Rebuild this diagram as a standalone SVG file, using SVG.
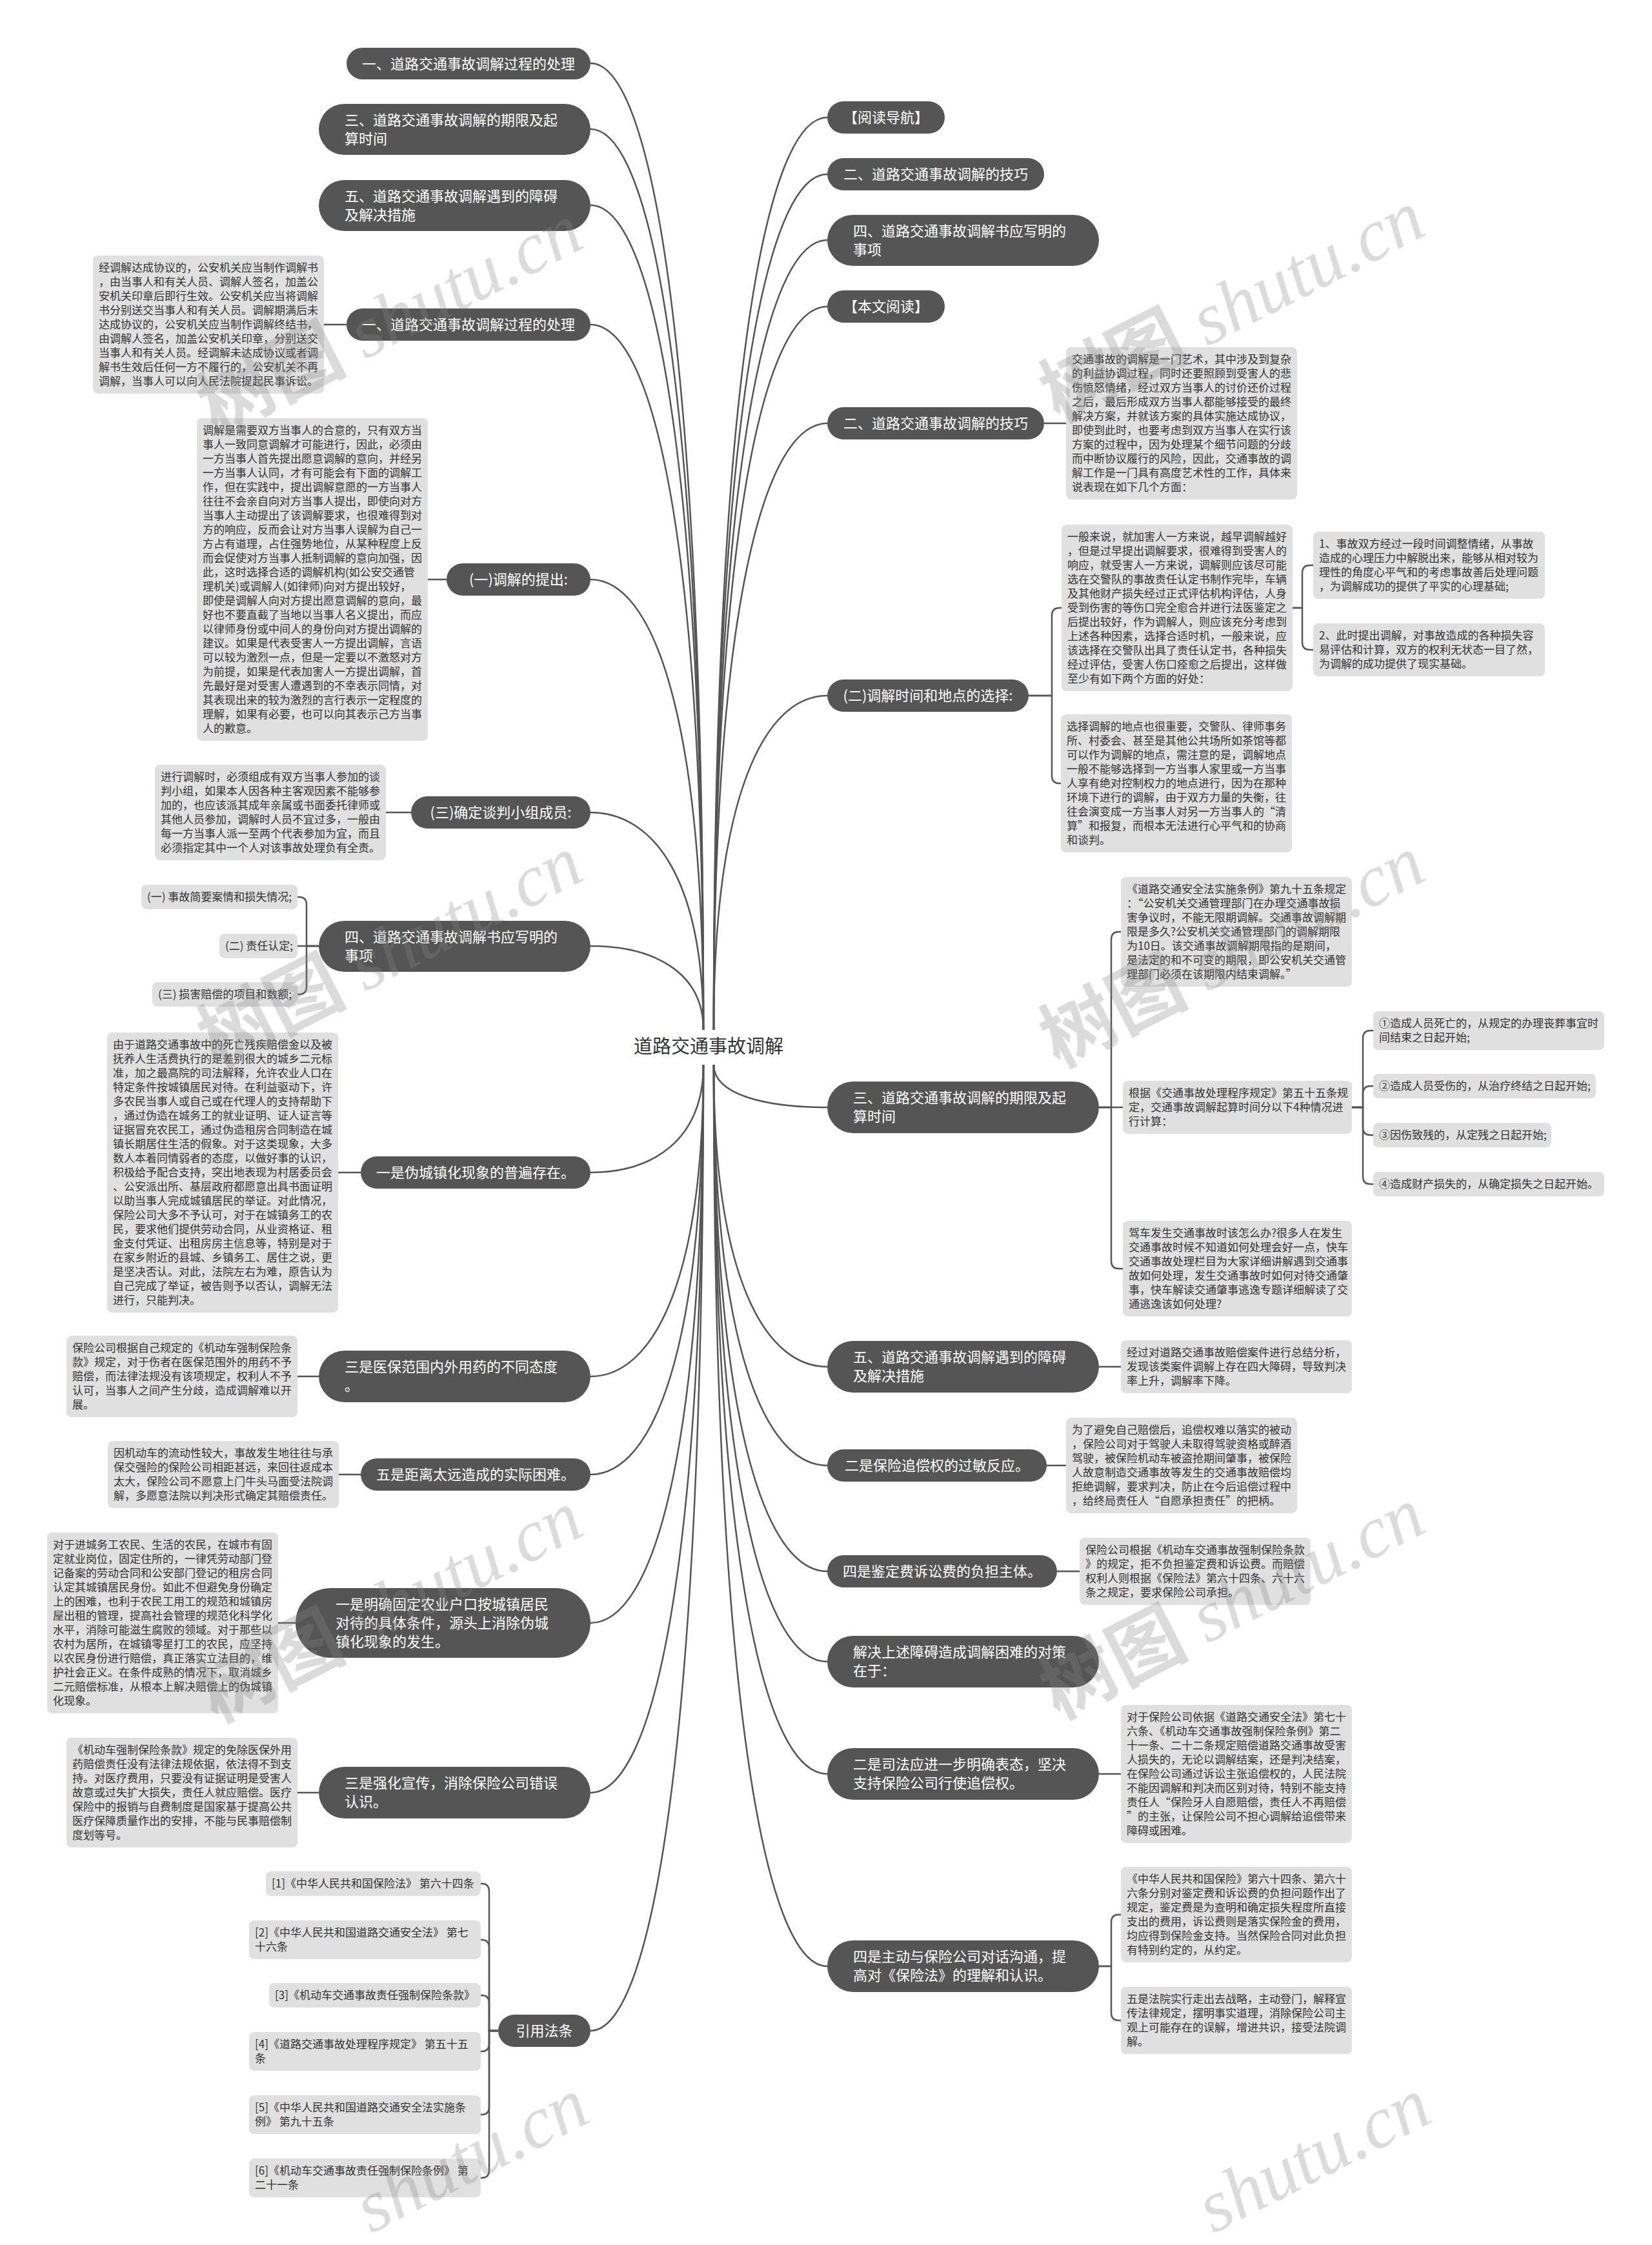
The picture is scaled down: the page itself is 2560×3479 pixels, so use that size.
<svg xmlns="http://www.w3.org/2000/svg" width="2560" height="3479" viewBox="0 0 2560 3479">
<style>
.mn{fill:#555555}
.mt{font-family:"Noto Sans CJK SC","Noto Sans",sans-serif;font-size:22px;fill:#ffffff}
.mc{text-anchor:middle}
.lb{fill:#e0e0e0}
.lt{font-family:"Noto Sans CJK SC","Noto Sans",sans-serif;font-size:17px;fill:#333333}
.cn path{fill:none;stroke:#555555;stroke-width:2.5}
.wm{font-size:115px;fill:#888888;opacity:0.3}
.wc{font-family:"Noto Sans CJK SC",sans-serif;font-weight:bold}
.ws{font-family:"Liberation Serif",serif;font-style:italic}
</style>
<rect width="2560" height="3479" fill="#ffffff"/>

<g id="connectors" class="cn">
<path d="M915 98 C1011 98 1090 547 1090 1596"/>
<path d="M915 200 C1011 200 1090 619 1090 1596"/>
<path d="M915 318 C1011 318 1090 701 1090 1596"/>
<path d="M915 503 C1011 503 1090 831 1090 1596"/>
<path d="M915 898 C1011 898 1090 1107 1090 1596"/>
<path d="M915 1259 C1011 1259 1090 1360 1090 1596"/>
<path d="M915 1466 C1011 1466 1090 1505 1090 1596"/>
<path d="M915 1817 C1011 1817 1090 1767 1090 1650"/>
<path d="M915 2133 C1011 2133 1090 1988 1090 1650"/>
<path d="M915 2285 C1011 2285 1090 2095 1090 1650"/>
<path d="M915 2515 C1011 2515 1090 2256 1090 1650"/>
<path d="M915 2778 C1011 2778 1090 2440 1090 1650"/>
<path d="M915 3147 C1011 3147 1090 2698 1090 1650"/>
<path d="M1282 182 C1185 182 1106 606 1106 1596"/>
<path d="M1282 270 C1185 270 1106 668 1106 1596"/>
<path d="M1282 372 C1185 372 1106 739 1106 1596"/>
<path d="M1282 475 C1185 475 1106 811 1106 1596"/>
<path d="M1282 656 C1185 656 1106 938 1106 1596"/>
<path d="M1282 1078 C1185 1078 1106 1233 1106 1596"/>
<path d="M1282 1716 C1185 1716 1106 1696 1106 1650"/>
<path d="M1282 2118 C1185 2118 1106 1978 1106 1650"/>
<path d="M1282 2271 C1185 2271 1106 2085 1106 1650"/>
<path d="M1282 2435 C1185 2435 1106 2200 1106 1650"/>
<path d="M1282 2575 C1185 2575 1106 2298 1106 1650"/>
<path d="M1282 2749 C1185 2749 1106 2419 1106 1650"/>
<path d="M1282 3047 C1185 3047 1106 2628 1106 1650"/>
<path d="M502 503 H537"/>
<path d="M663 898 H692"/>
<path d="M598 1259 H637"/>
<path d="M524 1817 H559"/>
<path d="M461 2133 H494"/>
<path d="M525 2285 H559"/>
<path d="M431 2515 H458"/>
<path d="M461 2778 H494"/>
<path d="M1618 656 H1652"/>
<path d="M1703 2118 H1737"/>
<path d="M1622 2271 H1652"/>
<path d="M1638 2435 H1673"/>
<path d="M1703 2749 H1737"/>
<path d="M494 1466 H475 V1402 Q475 1390 463 1390 H461"/>
<path d="M494 1466 H461"/>
<path d="M494 1466 H475 V1529 Q475 1541 463 1541 H461"/>
<path d="M772 3147 H758 V2931 Q758 2919 746 2919 H745"/>
<path d="M772 3147 H758 V3018 Q758 3006 746 3006 H745"/>
<path d="M772 3147 H758 V3104 Q758 3092 746 3092 H745"/>
<path d="M772 3147 H758 V3167 Q758 3179 746 3179 H745"/>
<path d="M772 3147 H758 V3265 Q758 3277 746 3277 H745"/>
<path d="M772 3147 H758 V3363 Q758 3375 746 3375 H745"/>
<path d="M1594 1078 H1630 V954 Q1630 942 1642 942 H1645"/>
<path d="M1594 1078 H1630 V1202 Q1630 1214 1642 1214 H1644"/>
<path d="M2003 942 H2018 V888 Q2018 876 2030 876 H2035"/>
<path d="M2003 942 H2018 V995 Q2018 1007 2030 1007 H2035"/>
<path d="M1703 1716 H1722 V1456 Q1722 1444 1734 1444 H1737"/>
<path d="M1703 1716 H1740"/>
<path d="M1703 1716 H1722 V1954 Q1722 1966 1734 1966 H1740"/>
<path d="M2095 1716 H2112 V1609 Q2112 1597 2124 1597 H2128"/>
<path d="M2095 1716 H2112 V1695 Q2112 1683 2124 1683 H2128"/>
<path d="M2095 1716 H2112 V1747 Q2112 1759 2124 1759 H2128"/>
<path d="M2095 1716 H2112 V1823 Q2112 1835 2124 1835 H2128"/>
<path d="M1703 3047 H1722 V2979 Q1722 2967 1734 2967 H1737"/>
<path d="M1703 3047 H1722 V3119 Q1722 3131 1734 3131 H1737"/>
</g>

<g id="center"><text x="1098" y="1632" text-anchor="middle" font-family="Noto Sans CJK SC, sans-serif" font-size="29" fill="#333333">道路交通事故调解</text></g>

<g id="L1"><rect class="mn" x="537" y="74" width="378" height="49" rx="24.5"/><text class="mt mc" x="726" y="107">一、道路交通事故调解过程的处理</text></g>
<g id="L2"><rect class="mn" x="494" y="161" width="421" height="79" rx="39.5"/><text class="mt" x="534" y="194">三、道路交通事故调解的期限及起</text><text class="mt" x="534" y="223">算时间</text></g>
<g id="L3"><rect class="mn" x="494" y="279" width="421" height="79" rx="39.5"/><text class="mt" x="534" y="312">五、道路交通事故调解遇到的障碍</text><text class="mt" x="534" y="341">及解决措施</text></g>
<g id="L4"><rect class="mn" x="537" y="478" width="378" height="50" rx="25"/><text class="mt mc" x="726" y="511">一、道路交通事故调解过程的处理</text></g>
<g id="L5"><rect class="mn" x="692" y="873" width="223" height="50" rx="25"/><text class="mt mc" x="803.5" y="906">(一)调解的提出:</text></g>
<g id="L6"><rect class="mn" x="637" y="1234" width="278" height="50" rx="25"/><text class="mt mc" x="776" y="1267">(三)确定谈判小组成员:</text></g>
<g id="L7"><rect class="mn" x="494" y="1427" width="421" height="79" rx="39.5"/><text class="mt" x="534" y="1460">四、道路交通事故调解书应写明的</text><text class="mt" x="534" y="1489">事项</text></g>
<g id="L8"><rect class="mn" x="559" y="1792" width="356" height="50" rx="25"/><text class="mt mc" x="737" y="1825">一是伪城镇化现象的普遍存在。</text></g>
<g id="L9"><rect class="mn" x="494" y="2093" width="421" height="80" rx="40"/><text class="mt" x="534" y="2126">三是医保范围内外用药的不同态度</text><text class="mt" x="534" y="2155">。</text></g>
<g id="L10"><rect class="mn" x="559" y="2260" width="356" height="50" rx="25"/><text class="mt mc" x="737" y="2293">五是距离太远造成的实际困难。</text></g>
<g id="L11"><rect class="mn" x="458" y="2461" width="457" height="108" rx="54"/><text class="mt" x="520" y="2494">一是明确固定农业户口按城镇居民</text><text class="mt" x="520" y="2523">对待的具体条件，源头上消除伪城</text><text class="mt" x="520" y="2552">镇化现象的发生。</text></g>
<g id="L12"><rect class="mn" x="494" y="2738" width="421" height="80" rx="40"/><text class="mt" x="534" y="2771">三是强化宣传，消除保险公司错误</text><text class="mt" x="534" y="2800">认识。</text></g>
<g id="L13"><rect class="mn" x="772" y="3122" width="143" height="50" rx="25"/><text class="mt mc" x="843.5" y="3155">引用法条</text></g>

<g id="R1"><rect class="mn" x="1282" y="157" width="182" height="50" rx="25"/><text class="mt mc" x="1373" y="190">【阅读导航】</text></g>
<g id="R2"><rect class="mn" x="1282" y="245" width="336" height="50" rx="25"/><text class="mt mc" x="1450" y="278">二、道路交通事故调解的技巧</text></g>
<g id="R3"><rect class="mn" x="1282" y="333" width="421" height="79" rx="39.5"/><text class="mt" x="1322" y="366">四、道路交通事故调解书应写明的</text><text class="mt" x="1322" y="395">事项</text></g>
<g id="R4"><rect class="mn" x="1282" y="450" width="182" height="50" rx="25"/><text class="mt mc" x="1373" y="483">【本文阅读】</text></g>
<g id="R5"><rect class="mn" x="1282" y="631" width="336" height="50" rx="25"/><text class="mt mc" x="1450" y="664">二、道路交通事故调解的技巧</text></g>
<g id="R6"><rect class="mn" x="1282" y="1053" width="312" height="50" rx="25"/><text class="mt mc" x="1438" y="1086">(二)调解时间和地点的选择:</text></g>
<g id="R7"><rect class="mn" x="1282" y="1676" width="421" height="80" rx="40"/><text class="mt" x="1322" y="1709">三、道路交通事故调解的期限及起</text><text class="mt" x="1322" y="1738">算时间</text></g>
<g id="R8"><rect class="mn" x="1282" y="2078" width="421" height="80" rx="40"/><text class="mt" x="1322" y="2111">五、道路交通事故调解遇到的障碍</text><text class="mt" x="1322" y="2140">及解决措施</text></g>
<g id="R9"><rect class="mn" x="1282" y="2246" width="340" height="50" rx="25"/><text class="mt mc" x="1452" y="2279">二是保险追偿权的过敏反应。</text></g>
<g id="R10"><rect class="mn" x="1282" y="2410" width="356" height="50" rx="25"/><text class="mt mc" x="1460" y="2443">四是鉴定费诉讼费的负担主体。</text></g>
<g id="R11"><rect class="mn" x="1282" y="2535" width="421" height="80" rx="40"/><text class="mt" x="1322" y="2568">解决上述障碍造成调解困难的对策</text><text class="mt" x="1322" y="2597">在于：</text></g>
<g id="R12"><rect class="mn" x="1282" y="2709" width="421" height="80" rx="40"/><text class="mt" x="1322" y="2742">二是司法应进一步明确表态，坚决</text><text class="mt" x="1322" y="2771">支持保险公司行使追偿权。</text></g>
<g id="R13"><rect class="mn" x="1282" y="3007" width="421" height="80" rx="40"/><text class="mt" x="1322" y="3040">四是主动与保险公司对话沟通，提</text><text class="mt" x="1322" y="3069">高对《保险法》的理解和认识。</text></g>

<g id="T1"><rect class="lb" x="144" y="396" width="358" height="214" rx="8"/><text class="lt" x="153" y="421"><tspan x="153">经调解达成协议的，公安机关应当制作调解书</tspan><tspan x="153" dy="22">，由当事人和有关人员、调解人签名，加盖公</tspan><tspan x="153" dy="22">安机关印章后即行生效。公安机关应当将调解</tspan><tspan x="153" dy="22">书分别送交当事人和有关人员。调解期满后未</tspan><tspan x="153" dy="22">达成协议的，公安机关应当制作调解终结书，</tspan><tspan x="153" dy="22">由调解人签名，加盖公安机关印章，分别送交</tspan><tspan x="153" dy="22">当事人和有关人员。经调解未达成协议或者调</tspan><tspan x="153" dy="22">解书生效后任何一方不履行的，公安机关不再</tspan><tspan x="153" dy="22">调解，当事人可以向人民法院提起民事诉讼。</tspan></text></g>

<g id="T2"><rect class="lb" x="305" y="648" width="358" height="500" rx="8"/><text class="lt" x="314" y="673"><tspan x="314">调解是需要双方当事人的合意的，只有双方当</tspan><tspan x="314" dy="22">事人一致同意调解才可能进行，因此，必须由</tspan><tspan x="314" dy="22">一方当事人首先提出愿意调解的意向，并经另</tspan><tspan x="314" dy="22">一方当事人认同，才有可能会有下面的调解工</tspan><tspan x="314" dy="22">作，但在实践中，提出调解意愿的一方当事人</tspan><tspan x="314" dy="22">往往不会亲自向对方当事人提出，即使向对方</tspan><tspan x="314" dy="22">当事人主动提出了该调解要求，也很难得到对</tspan><tspan x="314" dy="22">方的响应，反而会让对方当事人误解为自己一</tspan><tspan x="314" dy="22">方占有道理，占住强势地位，从某种程度上反</tspan><tspan x="314" dy="22">而会促使对方当事人抵制调解的意向加强，因</tspan><tspan x="314" dy="22">此，这时选择合适的调解机构(如公安交通管</tspan><tspan x="314" dy="22">理机关)或调解人(如律师)向对方提出较好，</tspan><tspan x="314" dy="22">即使是调解人向对方提出愿意调解的意向，最</tspan><tspan x="314" dy="22">好也不要直截了当地以当事人名义提出，而应</tspan><tspan x="314" dy="22">以律师身份或中间人的身份向对方提出调解的</tspan><tspan x="314" dy="22">建议。如果是代表受害人一方提出调解，言语</tspan><tspan x="314" dy="22">可以较为激烈一点，但是一定要以不激怒对方</tspan><tspan x="314" dy="22">为前提，如果是代表加害人一方提出调解，首</tspan><tspan x="314" dy="22">先最好是对受害人遭遇到的不幸表示同情，对</tspan><tspan x="314" dy="22">其表现出来的较为激烈的言行表示一定程度的</tspan><tspan x="314" dy="22">理解，如果有必要，也可以向其表示己方当事</tspan><tspan x="314" dy="22">人的歉意。</tspan></text></g>

<g id="T3"><rect class="lb" x="240" y="1185" width="358" height="148" rx="8"/><text class="lt" x="249" y="1210"><tspan x="249">进行调解时，必须组成有双方当事人参加的谈</tspan><tspan x="249" dy="22">判小组，如果本人因各种主客观因素不能够参</tspan><tspan x="249" dy="22">加的，也应该派其成年亲属或书面委托律师或</tspan><tspan x="249" dy="22">其他人员参加，调解时人员不宜过多，一般由</tspan><tspan x="249" dy="22">每一方当事人派一至两个代表参加为宜，而且</tspan><tspan x="249" dy="22">必须指定其中一个人对该事故处理负有全责。</tspan></text></g>

<g id="S1"><rect class="lb" x="219" y="1371" width="242" height="38" rx="8"/><text class="lt" x="228" y="1396">(一) 事故简要案情和损失情况;</text></g>
<g id="S2"><rect class="lb" x="340" y="1447" width="121" height="38" rx="8"/><text class="lt" x="349" y="1472">(二) 责任认定;</text></g>
<g id="S3"><rect class="lb" x="236" y="1522" width="225" height="38" rx="8"/><text class="lt" x="245" y="1547">(三) 损害赔偿的项目和数额;</text></g>

<g id="T4"><rect class="lb" x="166" y="1600" width="358" height="434" rx="8"/><text class="lt" x="175" y="1625"><tspan x="175">由于道路交通事故中的死亡残疾赔偿金以及被</tspan><tspan x="175" dy="22">抚养人生活费执行的是差别很大的城乡二元标</tspan><tspan x="175" dy="22">准，加之最高院的司法解释，允许农业人口在</tspan><tspan x="175" dy="22">特定条件按城镇居民对待。在利益驱动下，许</tspan><tspan x="175" dy="22">多农民当事人或自己或在代理人的支持帮助下</tspan><tspan x="175" dy="22">，通过伪造在城务工的就业证明、证人证言等</tspan><tspan x="175" dy="22">证据冒充农民工，通过伪造租房合同制造在城</tspan><tspan x="175" dy="22">镇长期居住生活的假象。对于这类现象，大多</tspan><tspan x="175" dy="22">数人本着同情弱者的态度，以做好事的认识，</tspan><tspan x="175" dy="22">积极给予配合支持，突出地表现为村居委员会</tspan><tspan x="175" dy="22">、公安派出所、基层政府都愿意出具书面证明</tspan><tspan x="175" dy="22">以助当事人完成城镇居民的举证。对此情况，</tspan><tspan x="175" dy="22">保险公司大多不予认可，对于在城镇务工的农</tspan><tspan x="175" dy="22">民，要求他们提供劳动合同，从业资格证、租</tspan><tspan x="175" dy="22">金支付凭证、出租房房主信息等，特别是对于</tspan><tspan x="175" dy="22">在家乡附近的县城、乡镇务工、居住之说，更</tspan><tspan x="175" dy="22">是坚决否认。对此，法院左右为难，原告认为</tspan><tspan x="175" dy="22">自己完成了举证，被告则予以否认，调解无法</tspan><tspan x="175" dy="22">进行，只能判决。</tspan></text></g>

<g id="T5"><rect class="lb" x="103" y="2070" width="358" height="126" rx="8"/><text class="lt" x="112" y="2095"><tspan x="112">保险公司根据自己规定的《机动车强制保险条</tspan><tspan x="112" dy="22">款》规定，对于伤者在医保范围外的用药不予</tspan><tspan x="112" dy="22">赔偿，而法律法规没有该项规定，权利人不予</tspan><tspan x="112" dy="22">认可，当事人之间产生分歧，造成调解难以开</tspan><tspan x="112" dy="22">展。</tspan></text></g>

<g id="T6"><rect class="lb" x="167" y="2233" width="358" height="104" rx="8"/><text class="lt" x="176" y="2258"><tspan x="176">因机动车的流动性较大，事故发生地往往与承</tspan><tspan x="176" dy="22">保交强险的保险公司相距甚远，来回往返成本</tspan><tspan x="176" dy="22">太大，保险公司不愿意上门牛头马面受法院调</tspan><tspan x="176" dy="22">解，多愿意法院以判决形式确定其赔偿责任。</tspan></text></g>

<g id="T7"><rect class="lb" x="73" y="2375" width="358" height="280" rx="8"/><text class="lt" x="82" y="2400"><tspan x="82">对于进城务工农民、生活的农民，在城市有固</tspan><tspan x="82" dy="22">定就业岗位，固定住所的，一律凭劳动部门登</tspan><tspan x="82" dy="22">记备案的劳动合同和公安部门登记的租房合同</tspan><tspan x="82" dy="22">认定其城镇居民身份。如此不但避免身份确定</tspan><tspan x="82" dy="22">上的困难，也利于农民工用工的规范和城镇房</tspan><tspan x="82" dy="22">屋出租的管理，提高社会管理的规范化科学化</tspan><tspan x="82" dy="22">水平，消除可能滋生腐败的领域。对于那些以</tspan><tspan x="82" dy="22">农村为居所，在城镇零星打工的农民，应坚持</tspan><tspan x="82" dy="22">以农民身份进行赔偿，真正落实立法目的，维</tspan><tspan x="82" dy="22">护社会正义。在条件成熟的情况下，取消城乡</tspan><tspan x="82" dy="22">二元赔偿标准，从根本上解决赔偿上的伪城镇</tspan><tspan x="82" dy="22">化现象。</tspan></text></g>

<g id="T8"><rect class="lb" x="103" y="2693" width="358" height="170" rx="8"/><text class="lt" x="112" y="2718"><tspan x="112">《机动车强制保险条款》规定的免除医保外用</tspan><tspan x="112" dy="22">药赔偿责任没有法律法规依据，依法得不到支</tspan><tspan x="112" dy="22">持。对医疗费用，只要没有证据证明是受害人</tspan><tspan x="112" dy="22">故意或过失扩大损失，责任人就应赔偿。医疗</tspan><tspan x="112" dy="22">保险中的报销与自费制度是国家基于提高公共</tspan><tspan x="112" dy="22">医疗保障质量作出的安排，不能与民事赔偿制</tspan><tspan x="112" dy="22">度划等号。</tspan></text></g>

<g id="Ref1"><rect class="lb" x="412" y="2900" width="333" height="38" rx="8"/><text class="lt" x="421" y="2925">[1]《中华人民共和国保险法》 第六十四条</text></g>
<g id="Ref2"><rect class="lb" x="386" y="2976" width="359" height="60" rx="8"/><text class="lt" x="395" y="3001"><tspan x="395">[2]《中华人民共和国道路交通安全法》 第七</tspan><tspan x="395" dy="22">十六条</tspan></text></g>
<g id="Ref3"><rect class="lb" x="417" y="3073" width="328" height="38" rx="8"/><text class="lt" x="426" y="3098">[3]《机动车交通事故责任强制保险条款》</text></g>
<g id="Ref4"><rect class="lb" x="386" y="3149" width="359" height="60" rx="8"/><text class="lt" x="395" y="3174"><tspan x="395">[4]《道路交通事故处理程序规定》 第五十五</tspan><tspan x="395" dy="22">条</tspan></text></g>
<g id="Ref5"><rect class="lb" x="386" y="3247" width="359" height="60" rx="8"/><text class="lt" x="395" y="3272"><tspan x="395">[5]《中华人民共和国道路交通安全法实施条</tspan><tspan x="395" dy="22">例》 第九十五条</tspan></text></g>
<g id="Ref6"><rect class="lb" x="386" y="3345" width="359" height="60" rx="8"/><text class="lt" x="395" y="3370"><tspan x="395">[6]《机动车交通事故责任强制保险条例》 第</tspan><tspan x="395" dy="22">二十一条</tspan></text></g>

<g id="RT1"><rect class="lb" x="1652" y="538" width="358" height="236" rx="8"/><text class="lt" x="1661" y="563"><tspan x="1661">交通事故的调解是一门艺术，其中涉及到复杂</tspan><tspan x="1661" dy="22">的利益协调过程，同时还要照顾到受害人的悲</tspan><tspan x="1661" dy="22">伤愤怒情绪，经过双方当事人的讨价还价过程</tspan><tspan x="1661" dy="22">之后，最后形成双方当事人都能够接受的最终</tspan><tspan x="1661" dy="22">解决方案，并就该方案的具体实施达成协议，</tspan><tspan x="1661" dy="22">即使到此时，也要考虑到双方当事人在实行该</tspan><tspan x="1661" dy="22">方案的过程中，因为处理某个细节问题的分歧</tspan><tspan x="1661" dy="22">而中断协议履行的风险，因此，交通事故的调</tspan><tspan x="1661" dy="22">解工作是一门具有高度艺术性的工作，具体来</tspan><tspan x="1661" dy="22">说表现在如下几个方面：</tspan></text></g>

<g id="RT2"><rect class="lb" x="1645" y="813" width="358" height="258" rx="8"/><text class="lt" x="1654" y="838"><tspan x="1654">一般来说，就加害人一方来说，越早调解越好</tspan><tspan x="1654" dy="22">，但是过早提出调解要求，很难得到受害人的</tspan><tspan x="1654" dy="22">响应，就受害人一方来说，调解则应该尽可能</tspan><tspan x="1654" dy="22">选在交警队的事故责任认定书制作完毕，车辆</tspan><tspan x="1654" dy="22">及其他财产损失经过正式评估机构评估，人身</tspan><tspan x="1654" dy="22">受到伤害的等伤口完全愈合并进行法医鉴定之</tspan><tspan x="1654" dy="22">后提出较好，作为调解人，则应该充分考虑到</tspan><tspan x="1654" dy="22">上述各种因素，选择合适时机，一般来说，应</tspan><tspan x="1654" dy="22">该选择在交警队出具了责任认定书，各种损失</tspan><tspan x="1654" dy="22">经过评估，受害人伤口痊愈之后提出，这样做</tspan><tspan x="1654" dy="22">至少有如下两个方面的好处：</tspan></text></g>

<g id="RT2a"><rect class="lb" x="2035" y="824" width="359" height="104" rx="8"/><text class="lt" x="2044" y="849"><tspan x="2044">1、事故双方经过一段时间调整情绪，从事故</tspan><tspan x="2044" dy="22">造成的心理压力中解脱出来，能够从相对较为</tspan><tspan x="2044" dy="22">理性的角度心平气和的考虑事故善后处理问题</tspan><tspan x="2044" dy="22">，为调解成功的提供了平实的心理基础;</tspan></text></g>
<g id="RT2b"><rect class="lb" x="2035" y="966" width="359" height="82" rx="8"/><text class="lt" x="2044" y="991"><tspan x="2044">2、此时提出调解，对事故造成的各种损失容</tspan><tspan x="2044" dy="22">易评估和计算，双方的权利无状态一目了然，</tspan><tspan x="2044" dy="22">为调解的成功提供了现实基础。</tspan></text></g>

<g id="RT3"><rect class="lb" x="1644" y="1107" width="358" height="214" rx="8"/><text class="lt" x="1653" y="1132"><tspan x="1653">选择调解的地点也很重要，交警队、律师事务</tspan><tspan x="1653" dy="22">所、村委会、甚至是其他公共场所如茶馆等都</tspan><tspan x="1653" dy="22">可以作为调解的地点，需注意的是，调解地点</tspan><tspan x="1653" dy="22">一般不能够选择到一方当事人家里或一方当事</tspan><tspan x="1653" dy="22">人享有绝对控制权力的地点进行，因为在那种</tspan><tspan x="1653" dy="22">环境下进行的调解，由于双方力量的失衡，往</tspan><tspan x="1653" dy="22">往会演变成一方当事人对另一方当事人的“清</tspan><tspan x="1653" dy="22">算”和报复，而根本无法进行心平气和的协商</tspan><tspan x="1653" dy="22">和谈判。</tspan></text></g>

<g id="RT4"><rect class="lb" x="1737" y="1359" width="358" height="170" rx="8"/><text class="lt" x="1746" y="1384"><tspan x="1746">《道路交通安全法实施条例》第九十五条规定</tspan><tspan x="1746" dy="22">：“公安机关交通管理部门在办理交通事故损</tspan><tspan x="1746" dy="22">害争议时，不能无限期调解。交通事故调解期</tspan><tspan x="1746" dy="22">限是多久?公安机关交通管理部门的调解期限</tspan><tspan x="1746" dy="22">为10日。该交通事故调解期限指的是期间，</tspan><tspan x="1746" dy="22">是法定的和不可变的期限，即公安机关交通管</tspan><tspan x="1746" dy="22">理部门必须在该期限内结束调解。”</tspan></text></g>

<g id="RT5"><rect class="lb" x="1740" y="1675" width="355" height="82" rx="8"/><text class="lt" x="1749" y="1700"><tspan x="1749">根据《交通事故处理程序规定》第五十五条规</tspan><tspan x="1749" dy="22">定，交通事故调解起算时间分以下4种情况进</tspan><tspan x="1749" dy="22">行计算：</tspan></text></g>
<g id="RT5a"><rect class="lb" x="2128" y="1567" width="358" height="60" rx="8"/><text class="lt" x="2137" y="1592"><tspan x="2137">①造成人员死亡的，从规定的办理丧葬事宜时</tspan><tspan x="2137" dy="22">间结束之日起开始;</tspan></text></g>
<g id="RT5b"><rect class="lb" x="2128" y="1664" width="345" height="38" rx="8"/><text class="lt" x="2137" y="1689">②造成人员受伤的，从治疗终结之日起开始;</text></g>
<g id="RT5c"><rect class="lb" x="2128" y="1740" width="276" height="38" rx="8"/><text class="lt" x="2137" y="1765">③因伤致残的，从定残之日起开始;</text></g>
<g id="RT5d"><rect class="lb" x="2128" y="1816" width="358" height="38" rx="8"/><text class="lt" x="2137" y="1841">④造成财产损失的，从确定损失之日起开始。</text></g>

<g id="RT6"><rect class="lb" x="1740" y="1892" width="355" height="148" rx="8"/><text class="lt" x="1749" y="1917"><tspan x="1749">驾车发生交通事故时该怎么办?很多人在发生</tspan><tspan x="1749" dy="22">交通事故时候不知道如何处理会好一点，快车</tspan><tspan x="1749" dy="22">交通事故处理栏目为大家详细讲解遇到交通事</tspan><tspan x="1749" dy="22">故如何处理，发生交通事故时如何对待交通肇</tspan><tspan x="1749" dy="22">事，快车解读交通肇事逃逸专题详细解读了交</tspan><tspan x="1749" dy="22">通逃逸该如何处理?</tspan></text></g>

<g id="RT7"><rect class="lb" x="1737" y="2077" width="358" height="82" rx="8"/><text class="lt" x="1746" y="2102"><tspan x="1746">经过对道路交通事故赔偿案件进行总结分析，</tspan><tspan x="1746" dy="22">发现该类案件调解上存在四大障碍，导致判决</tspan><tspan x="1746" dy="22">率上升，调解率下降。</tspan></text></g>

<g id="RT8"><rect class="lb" x="1652" y="2197" width="358" height="148" rx="8"/><text class="lt" x="1661" y="2222"><tspan x="1661">为了避免自己赔偿后，追偿权难以落实的被动</tspan><tspan x="1661" dy="22">，保险公司对于驾驶人未取得驾驶资格或醉酒</tspan><tspan x="1661" dy="22">驾驶，被保险机动车被盗抢期间肇事，被保险</tspan><tspan x="1661" dy="22">人故意制造交通事故等发生的交通事故赔偿均</tspan><tspan x="1661" dy="22">拒绝调解，要求判决，防止在今后追偿过程中</tspan><tspan x="1661" dy="22">，给终局责任人“自愿承担责任”的把柄。</tspan></text></g>

<g id="RT9"><rect class="lb" x="1673" y="2383" width="358" height="104" rx="8"/><text class="lt" x="1682" y="2408"><tspan x="1682">保险公司根据《机动车交通事故强制保险条款</tspan><tspan x="1682" dy="22">》的规定，拒不负担鉴定费和诉讼费。而赔偿</tspan><tspan x="1682" dy="22">权利人则根据《保险法》第六十四条、六十六</tspan><tspan x="1682" dy="22">条之规定，要求保险公司承担。</tspan></text></g>

<g id="RT10"><rect class="lb" x="1737" y="2642" width="358" height="214" rx="8"/><text class="lt" x="1746" y="2667"><tspan x="1746">对于保险公司依据《道路交通安全法》第七十</tspan><tspan x="1746" dy="22">六条、《机动车交通事故强制保险条例》第二</tspan><tspan x="1746" dy="22">十一条、二十二条规定赔偿道路交通事故受害</tspan><tspan x="1746" dy="22">人损失的，无论以调解结案，还是判决结案，</tspan><tspan x="1746" dy="22">在保险公司通过诉讼主张追偿权的，人民法院</tspan><tspan x="1746" dy="22">不能因调解和判决而区别对待，特别不能支持</tspan><tspan x="1746" dy="22">责任人“保险牙人自愿赔偿，责任人不再赔偿</tspan><tspan x="1746" dy="22">”的主张，让保险公司不担心调解给追偿带来</tspan><tspan x="1746" dy="22">障碍或困难。</tspan></text></g>

<g id="RT11"><rect class="lb" x="1737" y="2893" width="358" height="148" rx="8"/><text class="lt" x="1746" y="2918"><tspan x="1746">《中华人民共和国保险》第六十四条、第六十</tspan><tspan x="1746" dy="22">六条分别对鉴定费和诉讼费的负担问题作出了</tspan><tspan x="1746" dy="22">规定，鉴定费是为查明和确定损失程度所直接</tspan><tspan x="1746" dy="22">支出的费用，诉讼费则是落实保险金的费用，</tspan><tspan x="1746" dy="22">均应得到保险金支持。当然保险合同对此负担</tspan><tspan x="1746" dy="22">有特别约定的，从约定。</tspan></text></g>

<g id="RT12"><rect class="lb" x="1737" y="3079" width="358" height="104" rx="8"/><text class="lt" x="1746" y="3104"><tspan x="1746">五是法院实行走出去战略，主动登门，解释宣</tspan><tspan x="1746" dy="22">传法律规定，摆明事实道理，消除保险公司主</tspan><tspan x="1746" dy="22">观上可能存在的误解，增进共识，接受法院调</tspan><tspan x="1746" dy="22">解。</tspan></text></g>

<g id="watermarks" class="wm">
<text transform="translate(335 675) rotate(-27)"><tspan class="wc">树图</tspan><tspan class="ws"> shutu.cn</tspan></text>
<text transform="translate(1640 655) rotate(-27)"><tspan class="wc">树图</tspan><tspan class="ws"> shutu.cn</tspan></text>
<text transform="translate(335 1655) rotate(-27)"><tspan class="wc">树图</tspan><tspan class="ws"> shutu.cn</tspan></text>
<text transform="translate(1640 1655) rotate(-27)"><tspan class="wc">树图</tspan><tspan class="ws"> shutu.cn</tspan></text>
<text transform="translate(335 2670) rotate(-27)"><tspan class="wc">树图</tspan><tspan class="ws"> shutu.cn</tspan></text>
<text transform="translate(1640 2665) rotate(-27)"><tspan class="wc">树图</tspan><tspan class="ws"> shutu.cn</tspan></text>
<text class="ws" transform="translate(575 3462) rotate(-27)">shutu.cn</text>
<text class="ws" transform="translate(1880 3462) rotate(-27)">shutu.cn</text>
</g>
</svg>
